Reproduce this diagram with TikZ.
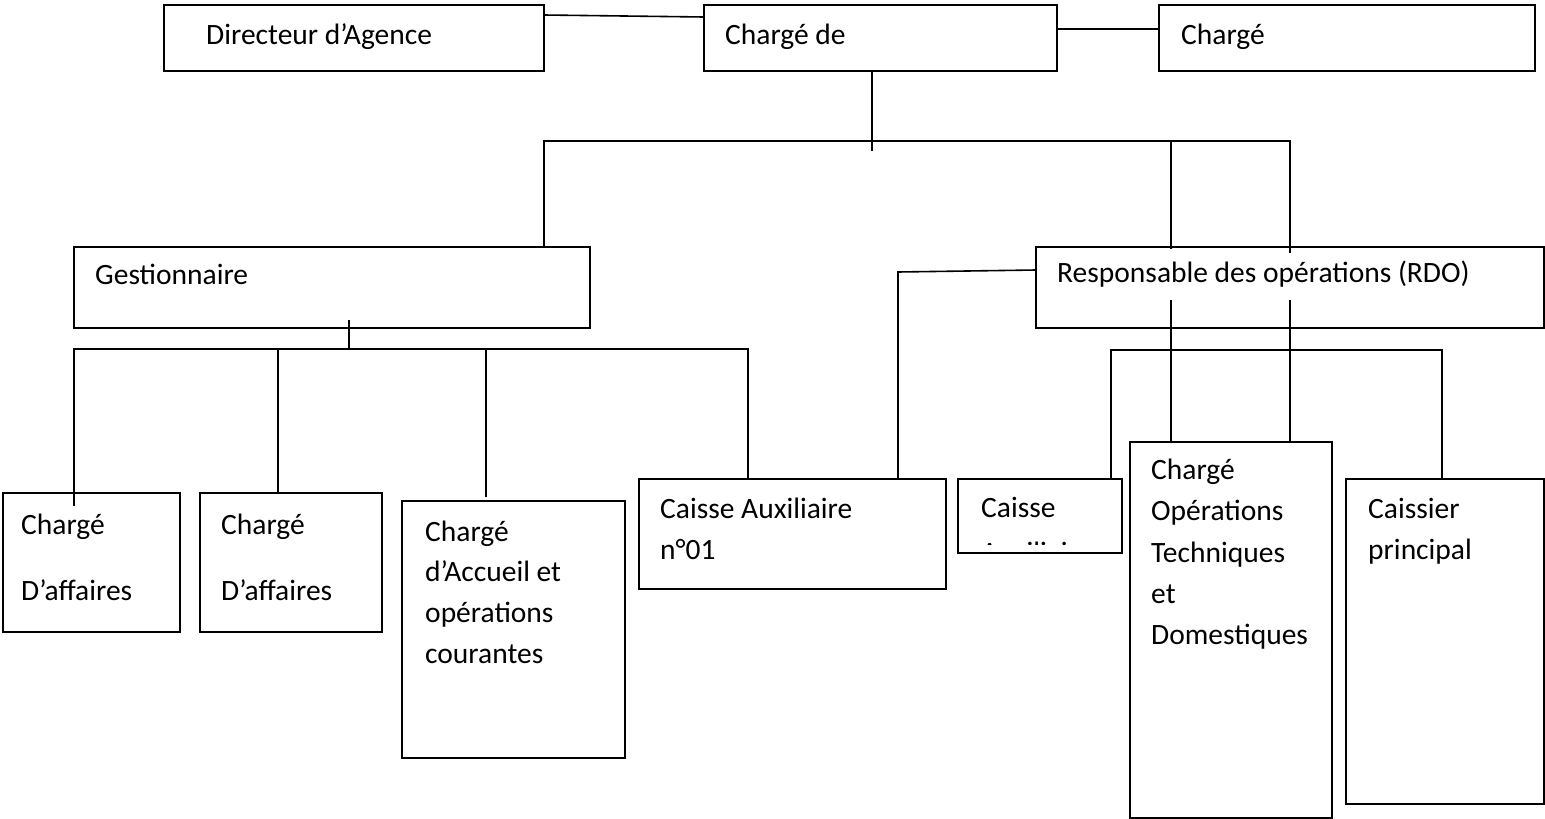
\documentclass[tikz,border=0pt]{standalone}
\usepackage{fontspec}
\setmainfont{Carlito}
\begin{document}
\begin{tikzpicture}[x=1pt,y=-1pt,
  box/.style={draw=black, line width=2pt, fill=white, inner sep=0pt, outer sep=0pt, anchor=north west},
  conn/.style={draw=black, line width=1.6pt},
  lbl/.style={anchor=base west, inner sep=0pt, font=\fontsize{29.5}{41}\selectfont}]
\useasboundingbox (0,0) rectangle (1545,819);
% boxes
\node[box, minimum width=380pt, minimum height=66pt] (dir) at (164,5) {};
\node[box, minimum width=353pt, minimum height=66pt] (cde) at (704,5) {};
\node[box, minimum width=376pt, minimum height=66pt] (chg) at (1159,5) {};
\node[box, minimum width=516pt, minimum height=81pt] (gest) at (74,247) {};
\node[box, minimum width=508pt, minimum height=81pt] (rdo) at (1036,247) {};
\node[box, minimum width=177pt, minimum height=139pt] (ca1) at (3,493) {};
\node[box, minimum width=182pt, minimum height=139pt] (ca2) at (200,493) {};
\node[box, minimum width=223pt, minimum height=257pt] (cacc) at (402,501) {};
\node[box, minimum width=307pt, minimum height=110pt] (caux) at (639,479) {};
\node[box, minimum width=164pt, minimum height=74pt] (cai) at (958,479) {};
\node[box, minimum width=202pt, minimum height=376pt] (cotd) at (1130,442) {};
\node[box, minimum width=198pt, minimum height=325pt] (cp) at (1346,479) {};
% connectors, top row
\draw[conn] ([yshift=-10pt]dir.north east) -- ([yshift=-12pt]cde.north west);
\draw[conn] ([yshift=-24pt]cde.north east) -- ([yshift=-24pt]chg.north west);
\coordinate (m1) at (872,151);
\draw[conn] (cde.south -| m1) -- (m1);
\coordinate (b1l) at (544,141);
\coordinate (b1m) at (1171,141);
\coordinate (b1r) at (1290,141);
\draw[conn] (gest.north -| b1l) -- (b1l) -- (b1r) -- ([yshift=-6pt]rdo.north -| b1r);
\draw[conn] (b1m) -- ([yshift=-2pt]rdo.north -| b1m);
% through RDO to COTD
\coordinate (r1) at (1171,300);
\coordinate (r2) at (1290,300);
\draw[conn] (r1) -- (cotd.north -| r1);
\draw[conn] (r2) -- (cotd.north -| r2);
% RDO to Caisse Auxiliaire n01
\coordinate (k1) at (898,272);
\draw[conn] ([yshift=-23pt]rdo.north west) -- (k1) -- (caux.north -| k1);
% right bus
\coordinate (b3l) at (1111,350);
\coordinate (b3r) at (1442,350);
\draw[conn] (cai.north -| b3l) -- (b3l) -- (b3r) -- (cp.north -| b3r);
% Gestionnaire bus
\coordinate (g1) at (349,349);
\draw[conn] ([yshift=8pt]gest.south -| g1) -- (g1);
\coordinate (b2l) at (74,349);
\coordinate (b2r) at (748,349);
\draw[conn] ([yshift=-13pt]ca1.north -| b2l) -- (b2l) -- (b2r) -- (caux.north -| b2r);
\coordinate (v2) at (278,349);
\draw[conn] (v2) -- (ca2.north -| v2);
\coordinate (v3) at (486,349);
\draw[conn] (v3) -- ([yshift=4pt]cacc.north -| v3);
% texts
\node[lbl] (tdir) at (206,44) {Directeur d’Agence};
\node[lbl] (tcde) at (725,44) {Chargé de};
\node[lbl] (tchg) at (1181,44) {Chargé};
\node[lbl] (tgest) at (95,284) {Gestionnaire};
\node[lbl] (trdo) at (1057,282) {Responsable des opérations (RDO)};
\node[lbl] (tca1a) at (21,534) {Chargé};
\node[lbl] (tca1b) at (21,600) {D’affaires};
\node[lbl] (tca2a) at (221,534) {Chargé};
\node[lbl] (tca2b) at (221,600) {D’affaires};
\node[lbl] (tacc1) at (425,541) {Chargé};
\node[lbl] (tacc2) at (425,581.5) {d’Accueil et};
\node[lbl] (tacc3) at (425,622) {opérations};
\node[lbl] (tacc4) at (425,663) {courantes};
\node[lbl] (taux1) at (660,518) {Caisse Auxiliaire};
\node[lbl] (taux2) at (660,559) {n°01};
\node[lbl] (tcai1) at (981,517) {Caisse};
\begin{scope}
\clip (959,480) rectangle (1121,544.5);
\node[lbl] (tcai2) at (981,562) {Auxiliaire};
\end{scope}
\node[lbl] (tot1) at (1151,479) {Chargé};
\node[lbl] (tot2) at (1151,520.5) {Opérations};
\node[lbl] (tot3) at (1151,562) {Techniques};
\node[lbl] (tot4) at (1151,603) {et};
\node[lbl] (tot5) at (1151,644) {Domestiques};
\node[lbl] (tcp1) at (1368,518) {Caissier};
\node[lbl] (tcp2) at (1368,559) {principal};
\end{tikzpicture}
\end{document}
